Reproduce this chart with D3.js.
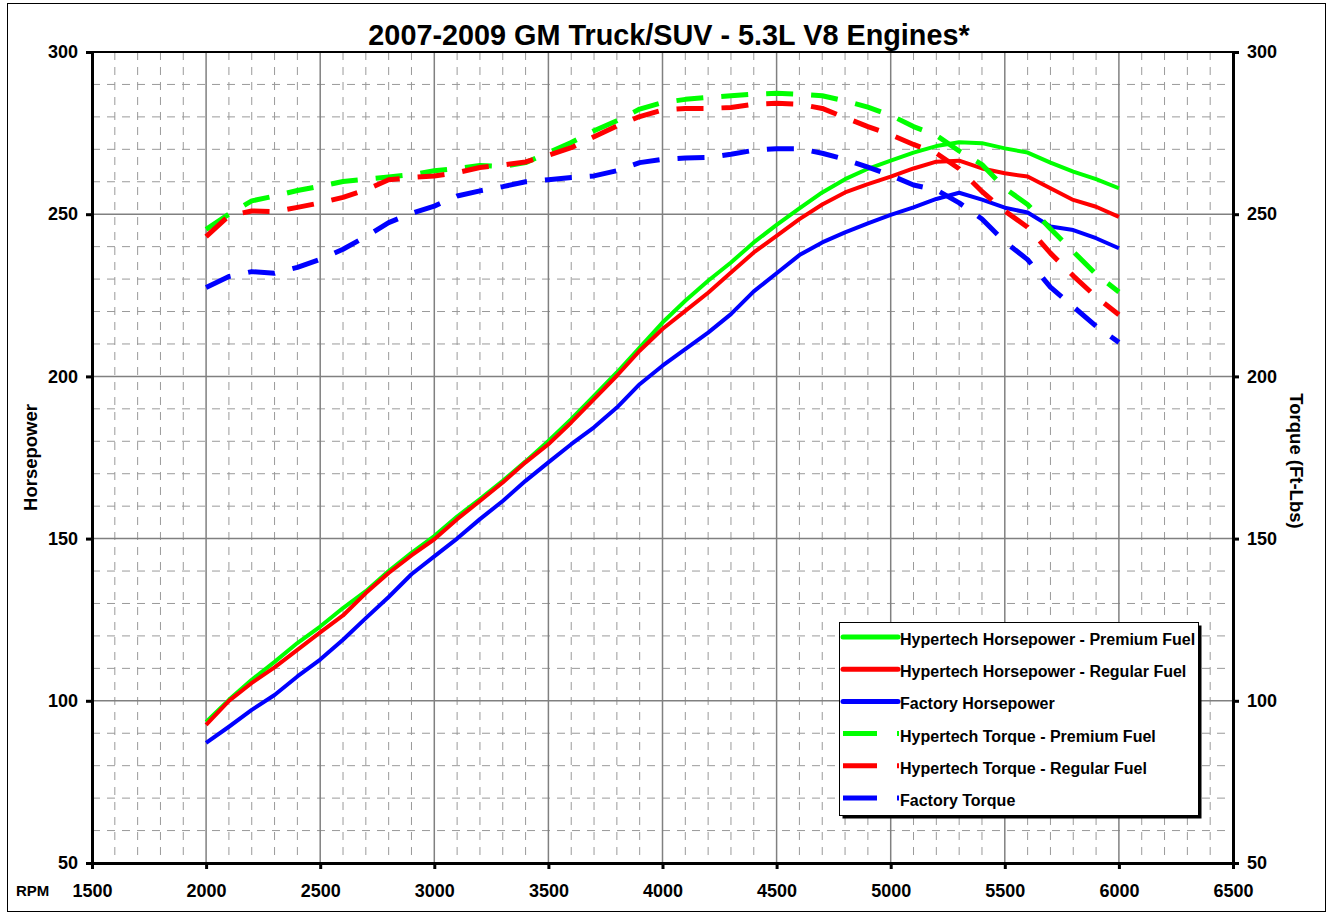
<!DOCTYPE html>
<html>
<head>
<meta charset="utf-8">
<script src="https://cdn.jsdelivr.net/npm/d3@7"></script>
<style>
  body { margin: 0; background: #fff; }
  svg { display: block; font-family: Arial, 'Liberation Sans', sans-serif; }
</style>
</head>
<body>
<svg id="dyno-svg"></svg>
<script>
var rpm = [2000, 2100, 2200, 2300, 2400, 2500, 2600, 2700, 2800, 2900,
  3000, 3100, 3200, 3300, 3400, 3500, 3600, 3700, 3800, 3900,
  4000, 4100, 4200, 4300, 4400, 4500, 4600, 4700, 4800, 4900,
  5000, 5100, 5200, 5300, 5400, 5500, 5600, 5700, 5800, 5900, 6000];

var hpPremium = [93.5, 100.3, 106.5, 112, 117.8, 122.9, 128.6, 133.8, 140, 145.6,
  150.8, 156.8, 162.2, 167.8, 173.8, 180.1, 186.8, 194, 201.2, 208.9,
  216.6, 223.3, 229.5, 235.1, 241.3, 246.7, 251.8, 256.7, 260.8, 264,
  266.5, 269, 271, 272.2, 271.9, 270.3, 269, 265.9, 263.1, 260.8, 258];
var hpRegular = [92.6, 100, 105.5, 110.3, 115.7, 121.1, 126.3, 133.2, 139.4, 144.8,
  149.8, 156, 161.6, 167.3, 173.5, 179.1, 185.8, 193, 200.2, 207.9,
  214.6, 220.2, 225.8, 232, 238.2, 243.3, 248.5, 253, 256.7, 259.3,
  261.6, 264.1, 266.2, 266.5, 264.1, 262.6, 261.6, 258, 254.4, 252.3, 249.2];
var hpFactory = [87, 92, 97.2, 101.8, 107.5, 112.7, 118.8, 125.5, 132, 139,
  144.5, 150, 156, 161.6, 167.8, 173.5, 179.1, 184.3, 190.4, 197.6,
  203.3, 208.4, 213.5, 219.2, 226.2, 231.8, 237.4, 241.3, 244.4, 247.2,
  249.8, 252.1, 254.7, 256.6, 254.5, 252, 250.5, 246.2, 245.1, 242.6, 239.5];
var tqPremium = [245.3, 250, 254.1, 255.6, 257.3, 258.6, 260.1, 260.8, 261.5, 262.2,
  263.4, 264.1, 265, 264.7, 265.9, 269, 272.1, 275.7, 278.8, 282.4,
  284.4, 285.4, 286, 286.5, 287, 287.3, 287, 286.5, 284.9, 283,
  280.5, 277, 274.3, 269.5, 265.3, 258, 253, 245.5, 238.5, 231.5, 226];
var tqRegular = [243.1, 249.5, 251, 250.8, 252.1, 253.5, 255.2, 257.5, 260.6, 261.3,
  261.8, 262.8, 264.4, 265.2, 266.1, 268.2, 270.5, 273.9, 277.2, 280.1,
  282.1, 282.6, 282.6, 282.9, 283.9, 284.2, 283.9, 282.6, 279.8, 277,
  274.5, 271.5, 268.8, 264, 257, 251, 246, 238, 231, 224.5, 219];
var tqFactory = [227.4, 230.8, 232.3, 231.8, 233.6, 236.1, 239.2, 243.1, 247.4, 250.3,
  252.5, 255.6, 257.2, 258.5, 260, 260.6, 261.3, 261.8, 263.4, 265.9,
  266.9, 267.3, 267.5, 268.5, 269.7, 270.2, 270.2, 268.8, 266.9, 264.5,
  262, 259, 257.5, 253.5, 248.5, 241.5, 236, 227.5, 221.5, 215.5, 210.5];

var seriesNames = ['Hypertech Horsepower - Premium Fuel', 'Hypertech Horsepower - Regular Fuel',
  'Factory Horsepower', 'Hypertech Torque - Premium Fuel', 'Hypertech Torque - Regular Fuel',
  'Factory Torque'];
var seriesValues = [hpPremium, hpRegular, hpFactory, tqPremium, tqRegular, tqFactory];
var seriesColors = ['#00ff00', '#ff0000', '#0000ff', '#00ff00', '#ff0000', '#0000ff'];
var seriesDashed = [false, false, false, true, true, true];

var xTicks = [1500, 2000, 2500, 3000, 3500, 4000, 4500, 5000, 5500, 6000, 6500];
var yTicks = [50, 100, 150, 200, 250, 300];

var config = {
  svgWidth: 1333,
  svgHeight: 915,
  plot: { left: 92, right: 1233, top: 52, bottom: 863 },
  hpWidth: 4,
  tqWidth: 5,
  tqDash: '27,18',
  legend: { x: 839, y: 622, width: 359, height: 193, rowHeight: 32.2 },
};

var svg = d3.select('#dyno-svg')
  .attr('width', config.svgWidth)
  .attr('height', config.svgHeight);

// outer chart frame
svg.append('rect')
  .attr('x', 7.5).attr('y', 3.5)
  .attr('width', 1318).attr('height', 908)
  .attr('fill', '#fff')
  .attr('stroke', '#000')
  .attr('stroke-width', 1);

var x = d3.scaleLinear()
  .domain([1500, 6500])
  .range([config.plot.left, config.plot.right]);
var y = d3.scaleLinear()
  .domain([50, 300])
  .range([config.plot.bottom, config.plot.top]);

// minor grid
var minorX = d3.range(1600, 6500, 100).filter(function(v) { return v % 500 !== 0; });
var minorY = d3.range(60, 300, 10).filter(function(v) { return v % 50 !== 0; });
var grid = svg.append('g');
grid.selectAll('.minor-x').data(minorX).enter().append('line')
  .attr('x1', function(d) { return x(d); }).attr('x2', function(d) { return x(d); })
  .attr('y1', config.plot.top).attr('y2', config.plot.bottom)
  .attr('stroke', '#9a9a9a').attr('stroke-width', 1)
  .attr('stroke-dasharray', '8,7');
grid.selectAll('.minor-y').data(minorY).enter().append('line')
  .attr('x1', config.plot.left).attr('x2', config.plot.right)
  .attr('y1', function(d) { return y(d); }).attr('y2', function(d) { return y(d); })
  .attr('stroke', '#9a9a9a').attr('stroke-width', 1)
  .attr('stroke-dasharray', '8,7');
grid.selectAll('.major-x').data(xTicks).enter().append('line')
  .attr('x1', function(d) { return x(d); }).attr('x2', function(d) { return x(d); })
  .attr('y1', config.plot.top).attr('y2', config.plot.bottom)
  .attr('stroke', '#808080').attr('stroke-width', 1.5);
grid.selectAll('.major-y').data(yTicks).enter().append('line')
  .attr('x1', config.plot.left).attr('x2', config.plot.right)
  .attr('y1', function(d) { return y(d); }).attr('y2', function(d) { return y(d); })
  .attr('stroke', '#808080').attr('stroke-width', 1.5);

// series
var line = d3.line()
  .x(function(d) { return x(d[0]); })
  .y(function(d) { return y(d[1]); });

for (var i = 0; i < seriesValues.length; i += 1) {
  var pts = rpm.map(function(r, j) { return [r, seriesValues[i][j]]; });
  svg.append('path')
    .attr('d', line(pts))
    .attr('fill', 'none')
    .attr('stroke', seriesColors[i])
    .attr('stroke-width', seriesDashed[i] ? config.tqWidth : config.hpWidth)
    .attr('stroke-linejoin', 'round')
    .attr('stroke-dasharray', seriesDashed[i] ? config.tqDash : null);
}

// plot border + axes
svg.append('line')
  .attr('x1', config.plot.left).attr('x2', config.plot.right)
  .attr('y1', config.plot.top).attr('y2', config.plot.top)
  .attr('stroke', '#000').attr('stroke-width', 2);

var axisLeft = svg.append('g')
  .attr('transform', 'translate(' + config.plot.left + ',0)')
  .call(d3.axisLeft(y).tickValues(yTicks).tickSize(6).tickPadding(8));
var axisRight = svg.append('g')
  .attr('transform', 'translate(' + config.plot.right + ',0)')
  .call(d3.axisRight(y).tickValues(yTicks).tickSize(6).tickPadding(8));
var axisBottom = svg.append('g')
  .attr('transform', 'translate(0,' + config.plot.bottom + ')')
  .call(d3.axisBottom(x).tickValues(xTicks).tickFormat(d3.format('d')).tickSize(6).tickPadding(15));

[axisLeft, axisRight, axisBottom].forEach(function(a) {
  a.select('.domain').attr('stroke', '#000').attr('stroke-width', 3);
  a.selectAll('.tick line').attr('stroke', '#000').attr('stroke-width', 3);
  a.selectAll('.tick text')
    .attr('fill', '#000')
    .attr('font-size', '18px')
    .attr('font-weight', 'bold')
    .attr('font-family', 'Arial, "Liberation Sans", sans-serif');
});
axisBottom.selectAll('.tick text').attr('dy', '0.71em');

// title & axis labels
svg.append('text')
  .attr('x', 669).attr('y', 45)
  .attr('text-anchor', 'middle')
  .attr('font-size', '28.8px').attr('font-weight', 'bold')
  .text('2007-2009 GM Truck/SUV - 5.3L V8 Engines*');

svg.append('text')
  .attr('transform', 'translate(37,457.5) rotate(-90)')
  .attr('text-anchor', 'middle')
  .attr('font-size', '18.5px').attr('font-weight', 'bold')
  .text('Horsepower');

svg.append('text')
  .attr('transform', 'translate(1290,461) rotate(90)')
  .attr('text-anchor', 'middle')
  .attr('font-size', '18.5px').attr('font-weight', 'bold')
  .text('Torque (Ft-Lbs)');

svg.append('text')
  .attr('x', 16).attr('y', 896)
  .attr('font-size', '15px').attr('font-weight', 'bold')
  .text('RPM');

// legend
var lg = svg.append('g')
  .attr('transform', 'translate(' + config.legend.x + ',' + config.legend.y + ')');
lg.append('rect')
  .attr('x', 3.5).attr('y', 3.5)
  .attr('width', config.legend.width).attr('height', config.legend.height)
  .attr('fill', '#000');
lg.append('rect')
  .attr('x', 0.5).attr('y', 0.5)
  .attr('width', config.legend.width).attr('height', config.legend.height)
  .attr('fill', '#fff').attr('stroke', '#000').attr('stroke-width', 1);

for (var k = 0; k < seriesNames.length; k += 1) {
  var ly = 15 + k * config.legend.rowHeight;
  lg.append('line')
    .attr('x1', 4).attr('x2', seriesDashed[k] ? 60 : 59)
    .attr('y1', ly).attr('y2', ly)
    .attr('stroke', seriesColors[k])
    .attr('stroke-width', seriesDashed[k] ? config.tqWidth : config.hpWidth + 1)
    .attr('stroke-linecap', seriesDashed[k] ? 'butt' : 'round')
    .attr('stroke-dasharray', seriesDashed[k] ? '34,20' : null);
  lg.append('text')
    .attr('x', 61).attr('y', ly + 8)
    .attr('font-size', '16px').attr('font-weight', 'bold')
    .text(seriesNames[k]);
}
</script>
</body>
</html>
